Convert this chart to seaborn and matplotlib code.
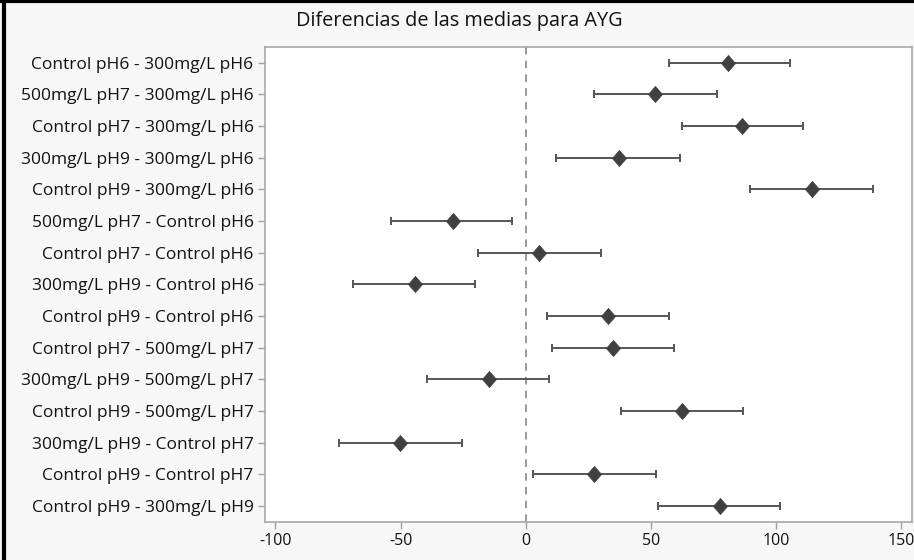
import numpy as np
import pandas as pd
import matplotlib
matplotlib.use("Agg")
import matplotlib.pyplot as plt
import seaborn as sns

comparisons = [
    "Control pH6 - 300mg/L pH6",
    "500mg/L pH7 - 300mg/L pH6",
    "Control pH7 - 300mg/L pH6",
    "300mg/L pH9 - 300mg/L pH6",
    "Control pH9 - 300mg/L pH6",
    "500mg/L pH7 - Control pH6",
    "Control pH7 - Control pH6",
    "300mg/L pH9 - Control pH6",
    "Control pH9 - Control pH6",
    "Control pH7 - 500mg/L pH7",
    "300mg/L pH9 - 500mg/L pH7",
    "Control pH9 - 500mg/L pH7",
    "300mg/L pH9 - Control pH7",
    "Control pH9 - Control pH7",
    "Control pH9 - 300mg/L pH9",
]
means = [81.0, 51.8, 86.4, 37.1, 114.3, -29.2, 5.3, -44.2, 32.7, 34.7, -14.8, 62.4, -50.3, 27.4, 77.5]
lower = [57.2, 27.3, 62.6, 12.3, 89.8, -54.0, -19.2, -69.0, 8.7, 10.7, -39.6, 37.9, -74.8, 3.1, 53.0]
upper = [105.8, 76.6, 111.0, 61.6, 138.9, -5.3, 30.0, -20.3, 57.2, 59.4, 9.2, 86.7, -25.6, 51.9, 101.6]
xticks = [-100, -50, 0, 50, 100, 150]
title = "Diferencias de las medias para AYG"

sns.set_theme(style="white")
plt.rcParams["font.family"] = ["Open Sans", "DejaVu Sans"]

df = pd.DataFrame({"comp": comparisons, "mean": means, "lo": lower, "hi": upper})
df["pos"] = np.arange(len(df))

fig = plt.figure(figsize=(9.14, 5.6), dpi=100)
fig.patch.set_facecolor("#f7f7f7")
ax = fig.add_axes([0.2896, 0.0684, 0.7077, 0.8482])
ax.set_facecolor("white")

ax.axvline(0, color="#7f7f7f", lw=1.1, ls=(0, (5, 4)), zorder=1)

ax.errorbar(df["mean"], df["pos"],
            xerr=[df["mean"] - df["lo"], df["hi"] - df["mean"]],
            fmt="none", ecolor="#555555", elinewidth=1.4, capsize=3, capthick=1.4, zorder=2)
diamond = [(0, 1), (0.88, 0), (0, -1), (-0.88, 0), (0, 1)]
sns.scatterplot(data=df, x="mean", y="pos", marker=diamond, s=135, color="#404040",
                edgecolor="#404040", linewidth=0.5, ax=ax, zorder=3, legend=False)

ax.set_xlim(-104.3, 154.2)
ax.set_ylim(len(df) - 0.5, -0.5)
ax.set_xticks(xticks)
ax.set_xticklabels([str(t) for t in xticks])
ax.set_yticks(df["pos"])
ax.set_yticklabels(df["comp"])
ax.set_xlabel("")
ax.set_ylabel("")
for s in ax.spines.values():
    s.set_color("#a8a8a8")
    s.set_linewidth(1.2)
ax.tick_params(axis="both", which="both", direction="out", length=5, width=1,
               color="#a0a0a0", labelcolor="#111111", pad=3,
               bottom=True, left=True)
ax.tick_params(axis="y", labelsize=12.5)
ax.tick_params(axis="x", labelsize=11.5)

fig.text(0.503, 0.963, title, ha="center", va="center", fontsize=14.3, color="#111111")

# outer dark border (top and left)
fig.add_artist(plt.Line2D([0.0, 1.0], [0.9975, 0.9975], transform=fig.transFigure, color="black", lw=3))
fig.add_artist(plt.Line2D([0.004, 0.004], [0.0, 1.0], transform=fig.transFigure, color="black", lw=3))

fig.savefig("out.png", dpi=100, facecolor=fig.get_facecolor())
